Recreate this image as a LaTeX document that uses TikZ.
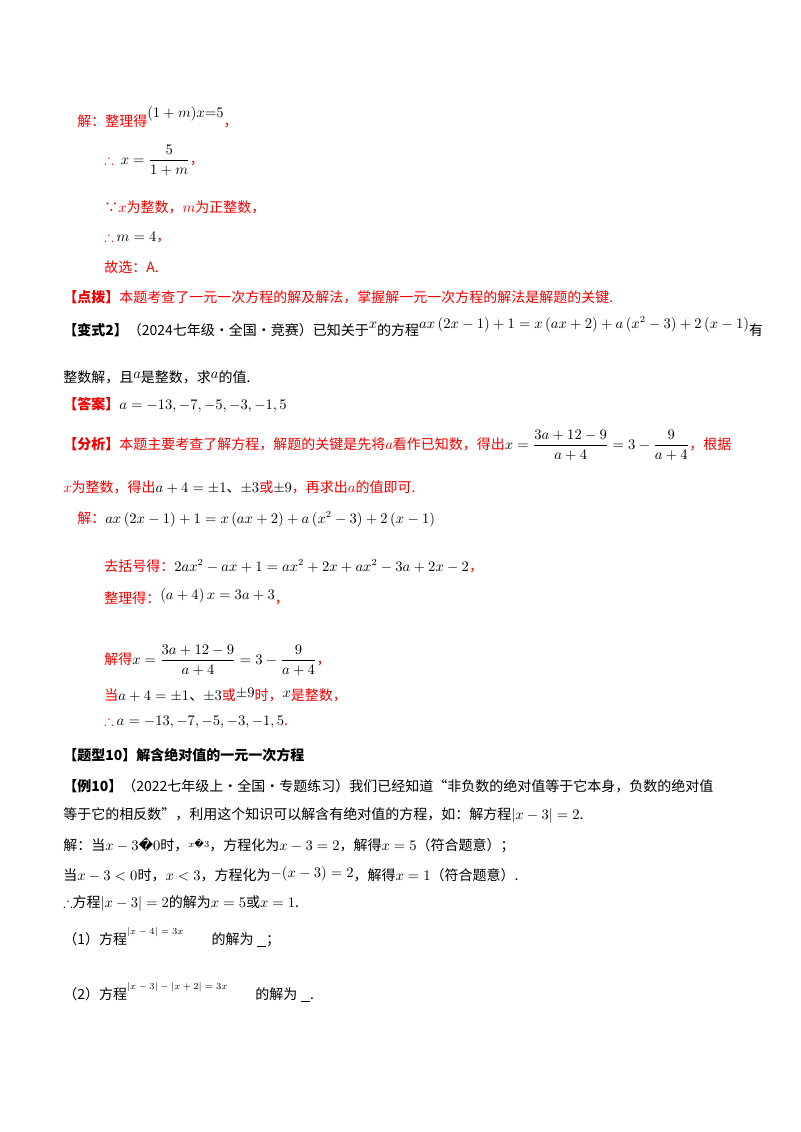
\documentclass[tikz,border=0pt]{standalone}
\usepackage{amsmath,amssymb}
\usepackage{fontspec}
\setmainfont{Noto Sans CJK SC}
\newfontfamily\dv{DejaVu Sans}
\definecolor{ans}{RGB}{240,0,0}
\begin{document}
\begin{tikzpicture}[x=0.75pt,y=-0.75pt,
  t/.style={anchor=west,inner sep=0pt,font=\fontsize{10.5pt}{12pt}\selectfont},
  r/.style={t,text=ans}]
\useasboundingbox (0,0) rectangle (800,1132);
\node[r] (l1) at (77,117) {解：整理得\raisebox{1.2ex}{\textcolor{black}{$(1+m)x{=}5$}}，};
\node[r] (l2) at (104,160) {$\therefore\ \textcolor{black}{x=\dfrac{5}{1+m}}$，};
\node[r] (l3) at (104,207) {∵$x$为整数，$m$为正整数，};
\node[r] (l4) at (104,237) {$\therefore$ \textcolor{black}{$m=4$}，};
\node[r] (l5) at (104,267) {故选：A.};
\node[r] (l6) at (63,297) {\textbf{【点拨】}本题考查了一元一次方程的解及解法，掌握解一元一次方程的解法是解题的关键.};
\node[t] (l7) at (63,327) {\textbf{【变式2】}（2024七年级·全国·竞赛）已知关于\raisebox{1ex}{$x$}的方程\raisebox{1ex}{$ax\left(2x-1\right)+1=x\left(ax+2\right)+a\left(x^2-3\right)+2\left(x-1\right)$}有};
\node[t] (l8) at (63,377) {整数解，且\raisebox{0.5ex}{$a$}是整数，求\raisebox{0.5ex}{$a$}的值.};
\node[r] (l9) at (63,405) {\textbf{【答案】}\textcolor{black}{$a=-13,-7,-5,-3,-1,5$}};
\node[r] (l10) at (63,445) {\textbf{【分析】}本题主要考查了解方程，解题的关键是先将$a$看作已知数，得出\textcolor{black}{$x=\dfrac{3a+12-9}{a+4}=3-\dfrac{9}{a+4}$}，根据};
\node[r] (l11) at (63,487) {$x$为整数，得出\textcolor{black}{$a+4=\pm1$、$\pm3$}或\textcolor{black}{$\pm9$}，再求出$a$的值即可.};
\node[r] (l12) at (77,519) {解：\textcolor{black}{$ax\left(2x-1\right)+1=x\left(ax+2\right)+a\left(x^2-3\right)+2\left(x-1\right)$}};
\node[r] (l13) at (104,566) {去括号得：\textcolor{black}{$2ax^2-ax+1=ax^2+2x+ax^2-3a+2x-2$}，};
\node[r] (l14) at (104,597) {整理得：\raisebox{0.5ex}{\textcolor{black}{$\left(a+4\right)x=3a+3$}}，};
\node[r] (l15) at (104,660) {解得\textcolor{black}{$x=\dfrac{3a+12-9}{a+4}=3-\dfrac{9}{a+4}$}，};
\node[r] (l16) at (104,695) {当\textcolor{black}{$a+4=\pm1$、$\pm3$}或\raisebox{0.5ex}{\textcolor{black}{$\pm9$}}时，\raisebox{0.5ex}{\textcolor{black}{$x$}}是整数，};
\node[r] (l17) at (104,722) {$\therefore$ \textcolor{black}{$a=-13,-7,-5,-3,-1,5$}.};
\node[t] (l18) at (63,755) {\textbf{【题型10】解含绝对值的一元一次方程}};
\node[t] (l19) at (63,786) {\textbf{【例10】}（2022七年级上·全国·专题练习）我们已经知道“非负数的绝对值等于它本身，负数的绝对值};
\node[t] (l20) at (63,815) {等于它的相反数”，利用这个知识可以解含有绝对值的方程，如：解方程$|x-3|=2$.};
\node[t] (l21) at (63,845) {解：当$x-3${\dv\char"FFFD}$0$时，\raisebox{0.3ex}{\scriptsize$x${\dv\char"FFFD}$3$}，方程化为$x-3=2$，解得$x=5$（符合题意）；};
\node[t] (l22) at (63,874) {当$x-3<0$时，$x<3$，方程化为\raisebox{0.4ex}{$-(x-3)=2$}，解得$x=1$（符合题意）.};
\node[t] (l23) at (63,903) {$\therefore$方程$|x-3|=2$的解为$x=5$或$x=1$.};
\node[t] (l24) at (63,937) {（1）方程\raisebox{1.3ex}{\scriptsize$|x-4|=3x$}\hspace{2em}的解为 \underline{\ \ \ }；};
\node[t] (l25) at (63,992) {（2）方程\raisebox{1.3ex}{\scriptsize$|x-3|-|x+2|=3x$}\hspace{2em}的解为 \underline{\ \ \ }.};
\end{tikzpicture}
\end{document}
